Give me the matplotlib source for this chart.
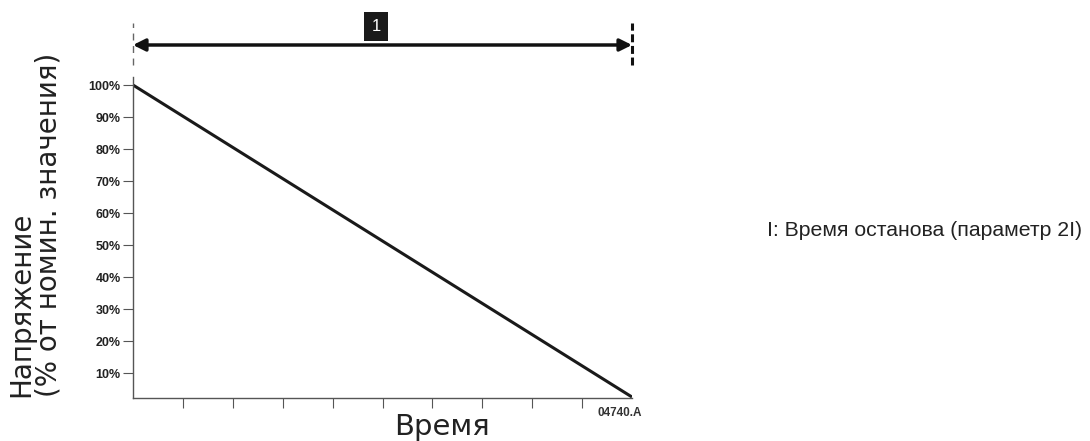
import matplotlib.pyplot as plt

plt.rcParams['font.family'] = ['Liberation Sans', 'DejaVu Sans']

# данные
time = [0, 10]
voltage = [100, 2.5]
ytick_vals = [10, 20, 30, 40, 50, 60, 70, 80, 90, 100]
ytick_labels = ["10%", "20%", "30%", "40%", "50%", "60%", "70%", "80%", "90%", "100%"]
xtick_vals = [1, 2, 3, 4, 5, 6, 7, 8, 9]

fig = plt.figure(figsize=(10.9, 4.41), dpi=100)
ax = fig.add_axes([133 / 1090, 43 / 441, 499 / 1090, 321 / 441])
ax.set_xlim(0, 10)
ax.set_ylim(2.2, 102.5)

ax.plot(time, voltage, color="#1a1a1a", lw=2.2, solid_capstyle="butt")

ax.spines["top"].set_visible(False)
ax.spines["right"].set_visible(False)
for s in ("left", "bottom"):
    ax.spines[s].set_color("#555555")
    ax.spines[s].set_linewidth(1.0)

ax.set_yticks(ytick_vals)
ax.set_yticklabels(ytick_labels, fontsize=9, color="#222222", fontweight="bold")
ax.set_xticks(xtick_vals)
ax.set_xticklabels([])
ax.tick_params(axis="y", length=7, width=0.8, color="#555555", pad=2)
ax.tick_params(axis="x", length=7, width=0.8, color="#555555")

# подписи осей
fig.text(442 / 1090, (441 - 435) / 441, "Время", fontsize=21, color="#222222",
         ha="center", va="baseline", family="DejaVu Sans")
fig.text(35 / 1090, 1 - 397 / 441, "Напряжение\n(% от номин. значения)", rotation=90,
         fontsize=20, color="#222222", ha="center", va="bottom",
         multialignment="left", linespacing=1.0, family="DejaVu Sans")

# стрелка и пунктирные линии
ax.annotate("", xy=(0, 112.5), xytext=(10, 112.5), annotation_clip=False,
            arrowprops=dict(arrowstyle="<|-|>", color="#111111", lw=2.5,
                            mutation_scale=18, shrinkA=0, shrinkB=0))
ax.plot([0, 0], [106.2, 119.5], ls=(0, (5, 4)), color="#666666", lw=1.0, clip_on=False)
ax.plot([10, 10], [106.2, 119.5], ls=(0, (2.6, 1.2)), color="#111111", lw=2.2, clip_on=False)

ax.text(4.87, 118.4, "1", fontsize=12, color="white", ha="center", va="center",
        clip_on=False,
        bbox=dict(boxstyle="square,pad=0.42", fc="#1a1a1a", ec="none"))

ax.text(9.76, -0.5, "04740.A", fontsize=8.5, color="#333333", ha="center", va="top",
        fontweight="bold", clip_on=False)

fig.text(767 / 1090, 1 - 230 / 441, "I: Время останова (параметр 2I)", fontsize=15.3,
         color="#222222", ha="left", va="center")

fig.savefig("out.png", dpi=100)
